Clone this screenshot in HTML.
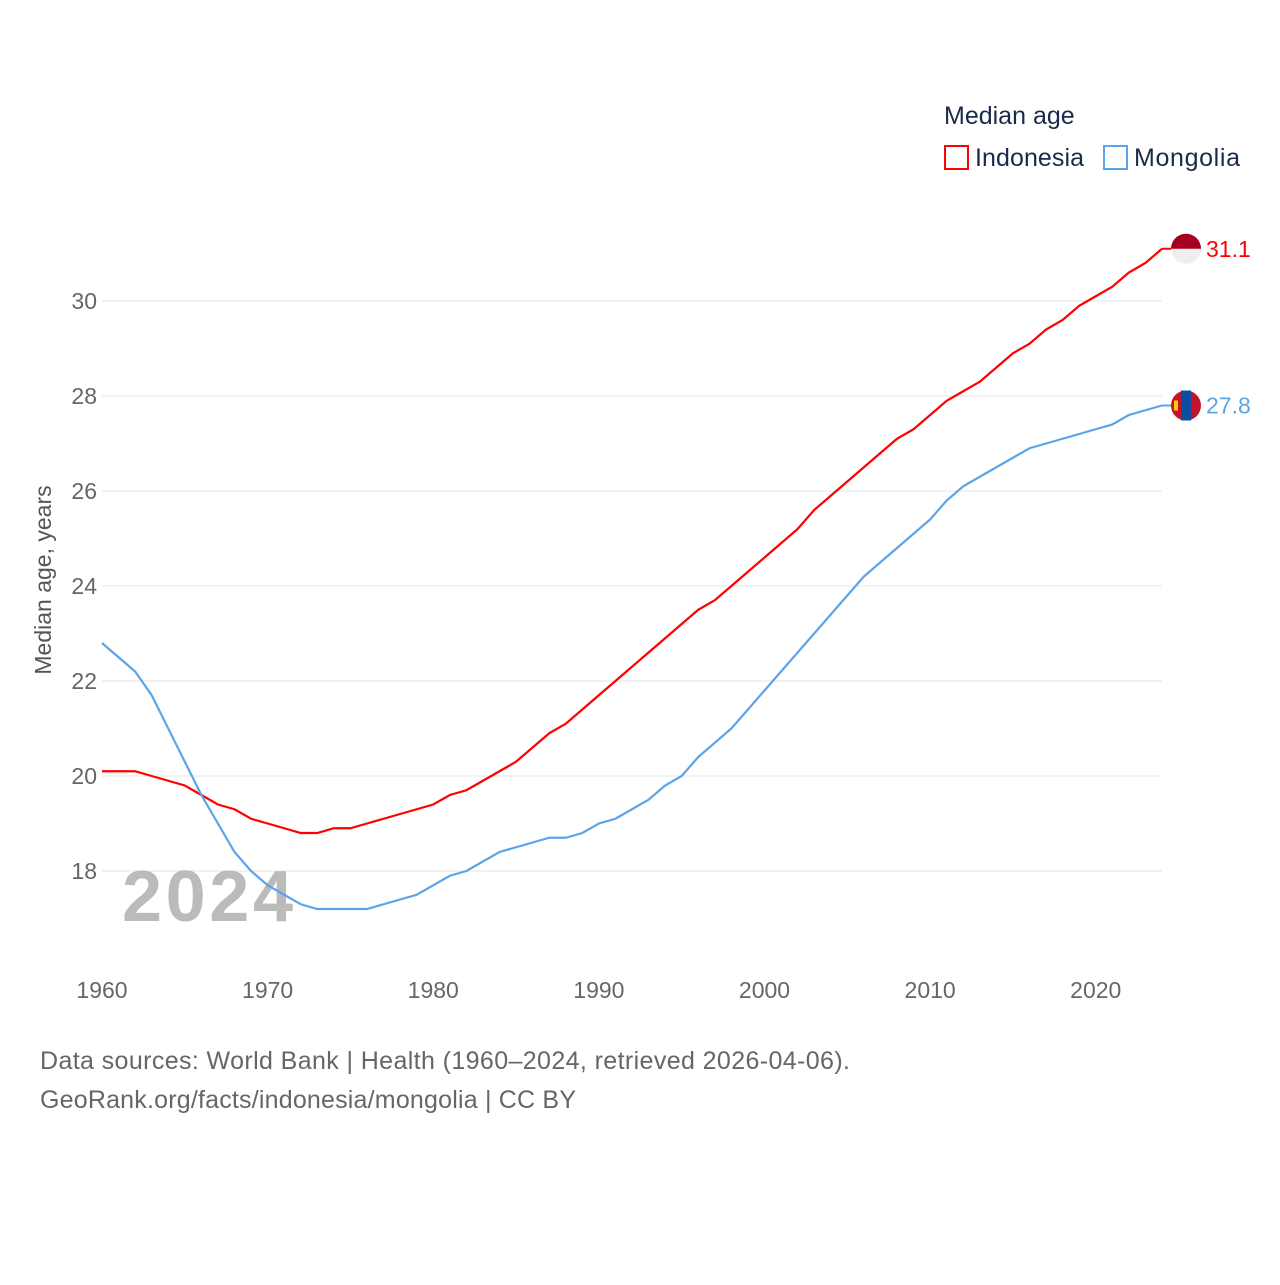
<!DOCTYPE html>
<html><head><meta charset="utf-8"><style>
body{margin:0;background:#fff;font-family:"Liberation Sans",sans-serif}
svg text{font-family:"Liberation Sans",sans-serif}
</style></head><body>
<svg id="c" width="1280" height="1280">
<text x="944" y="124" font-size="25" fill="#1a2a4a">Median age</text>
<rect x="945" y="146" width="23" height="23" fill="none" stroke="#f00" stroke-width="2"/>
<text x="975" y="166" font-size="25" fill="#1a2a4a" textLength="109">Indonesia</text>
<rect x="1104" y="146" width="23" height="23" fill="none" stroke="#5ba4ea" stroke-width="2"/>
<text x="1134" y="166" font-size="25" fill="#1a2a4a" textLength="106">Mongolia</text>
<text transform="translate(51,580) rotate(-90)" text-anchor="middle" font-size="23" fill="#555">Median age, years</text>
<g id="grid"></g>
<text x="122" y="921" font-size="72" font-weight="bold" fill="#bbb" textLength="171">2024</text>
<g id="lines"></g>
<text x="40" y="1069" font-size="25" fill="#666" textLength="810">Data sources: World Bank | Health (1960–2024, retrieved 2026-04-06).</text>
<text x="40" y="1108" font-size="25" fill="#666" textLength="536">GeoRank.org/facts/indonesia/mongolia | CC BY</text>
</svg>
<script>
const years=[];for(let y=1960;y<=2024;y++)years.push(y);
const indonesia=[20.1,20.1,20.1,20.0,19.9,19.8,19.6,19.4,19.3,19.1,19.0,18.9,18.8,18.8,18.9,18.9,19.0,19.1,19.2,19.3,19.4,19.6,19.7,19.9,20.1,20.3,20.6,20.9,21.1,21.4,21.7,22.0,22.3,22.6,22.9,23.2,23.5,23.7,24.0,24.3,24.6,24.9,25.2,25.6,25.9,26.2,26.5,26.8,27.1,27.3,27.6,27.9,28.1,28.3,28.6,28.9,29.1,29.4,29.6,29.9,30.1,30.3,30.6,30.8,31.1];
const mongolia=[22.8,22.5,22.2,21.7,21.0,20.3,19.6,19.0,18.4,18.0,17.7,17.5,17.3,17.2,17.2,17.2,17.2,17.3,17.4,17.5,17.7,17.9,18.0,18.2,18.4,18.5,18.6,18.7,18.7,18.8,19.0,19.1,19.3,19.5,19.8,20.0,20.4,20.7,21.0,21.4,21.8,22.2,22.6,23.0,23.4,23.8,24.2,24.5,24.8,25.1,25.4,25.8,26.1,26.3,26.5,26.7,26.9,27.0,27.1,27.2,27.3,27.4,27.6,27.7,27.8];
const yTicks=[18,20,22,24,26,28,30];
const xTicks=[1960,1970,1980,1990,2000,2010,2020];
const X=v=>102+(v-1960)*1060/64, Y=v=>871-(v-18)*47.5;
const NS='http://www.w3.org/2000/svg';
const mk=(p,t,a)=>{const e=document.createElementNS(NS,t);for(const k in a)e.setAttribute(k,a[k]);p.appendChild(e);return e;};
const g=document.getElementById('grid'),L=document.getElementById('lines');
yTicks.forEach(v=>{
 const l=mk(g,'line',{x1:102,x2:1162,y1:Y(v),y2:Y(v),stroke:'#e6e6e6'});
 
 
 const t=mk(g,'text',{x:97,y:Y(v)+8,'text-anchor':'end','font-size':23,fill:'#666'});t.textContent=v;
 
 
});
xTicks.forEach(v=>{
 const t=mk(g,'text',{x:X(v),y:998,'text-anchor':'middle','font-size':23,fill:'#666'});t.textContent=v;
 
 
});
function series(d,col,name){
 const pts=d.map((v,i)=>X(years[i])+','+Y(v)).join(' ');
 const p=mk(L,'polyline',{points:pts,fill:'none',stroke:col,'stroke-width':2.2});
 
 
 const last=d[d.length-1],ly=Y(last);
 mk(L,'line',{x1:X(2024),x2:1186,y1:ly,y2:ly,stroke:col,'stroke-width':2});
 const t=mk(L,'text',{x:1206,y:ly+8,'font-size':23,fill:col});t.textContent=last.toFixed(1);
 
 
 return ly;
}
const iy=series(indonesia,'#f00','indonesia');
const my=series(mongolia,'#5ba4ea','mongolia');
const f1=mk(L,'g',{});


mk(f1,'circle',{cx:1186,cy:iy,r:15,fill:'#eee'});
mk(f1,'path',{d:`M1171 ${iy} A15 15 0 0 1 1201 ${iy} Z`,fill:'#a50021'});
const f2=mk(L,'g',{});


mk(f2,'circle',{cx:1186,cy:my,r:15,fill:'#c4142b'});
mk(f2,'rect',{x:1181,y:my-15,width:10,height:30,fill:'#0b4ea2'});
mk(f2,'rect',{x:1174,y:my-5,width:4,height:10,fill:'#f9cf02'});
</script>
</body></html>
